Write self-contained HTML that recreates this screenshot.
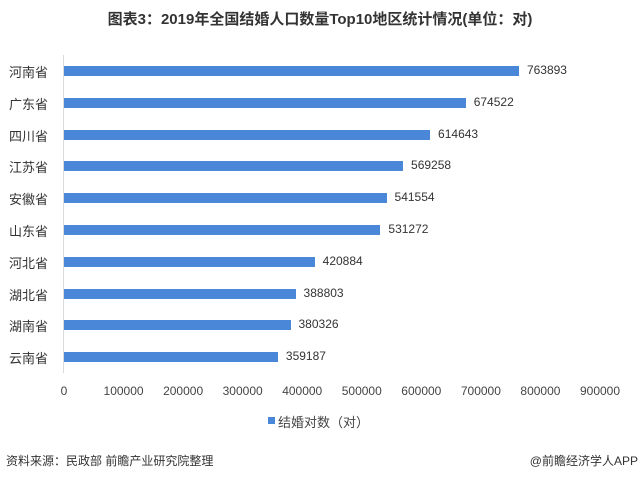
<!DOCTYPE html><html><head><meta charset="utf-8"><style>
body{margin:0;width:640px;height:479px;background:#fff;position:relative;font-family:"Liberation Sans","Noto Sans CJK SC",sans-serif;overflow:hidden}
.t{position:absolute;white-space:nowrap}
.bar{position:absolute;left:64px;height:10px;background:#4a87d9}
</style></head><body>
<div class="t" style="left:0;width:640px;text-align:center;top:8px;font-size:15px;font-weight:bold;color:#333">图表3：2019年全国结婚人口数量Top10地区统计情况(单位：对)</div>
<div style="position:absolute;left:63px;top:55px;width:1px;height:318px;background:#d9d9d9"></div>
<div id="c"></div>
<script>
var d=[["河南省",763893],["广东省",674522],["四川省",614643],["江苏省",569258],["安徽省",541554],["山东省",531272],["河北省",420884],["湖北省",388803],["湖南省",380326],["云南省",359187]];
var h="";d.forEach(function(r,i){var y=71+i*31.8;var w=r[1]/900000*536;
h+='<div class="t" style="left:9px;top:'+(y-9)+'px;font-size:13px;color:#333">'+r[0]+'</div>';
h+='<div class="bar" style="top:'+(y-5)+'px;width:'+w+'px"></div>';
h+='<div class="t" style="left:'+(64+w+8)+'px;top:'+(y-8)+'px;font-size:12px;color:#333">'+r[1]+'</div>';});
for(var k=0;k<=9;k++){var x=64+k*536/9;h+='<div class="t" style="left:'+(x-30)+'px;width:60px;text-align:center;top:384px;font-size:12px;color:#444">'+(k*100000)+'</div>';}
document.getElementById("c").innerHTML=h;
</script>
<div style="position:absolute;left:268px;top:417px;width:7px;height:7px;background:#4a87d9"></div>
<div class="t" style="left:278px;top:412px;font-size:13px;color:#444">结婚对数（对）</div>
<div class="t" style="left:6px;top:452px;font-size:12px;color:#333">资料来源：民政部 前瞻产业研究院整理</div>
<div class="t" style="right:2px;top:452px;font-size:12px;color:#333">@前瞻经济学人APP</div>
</body></html>
